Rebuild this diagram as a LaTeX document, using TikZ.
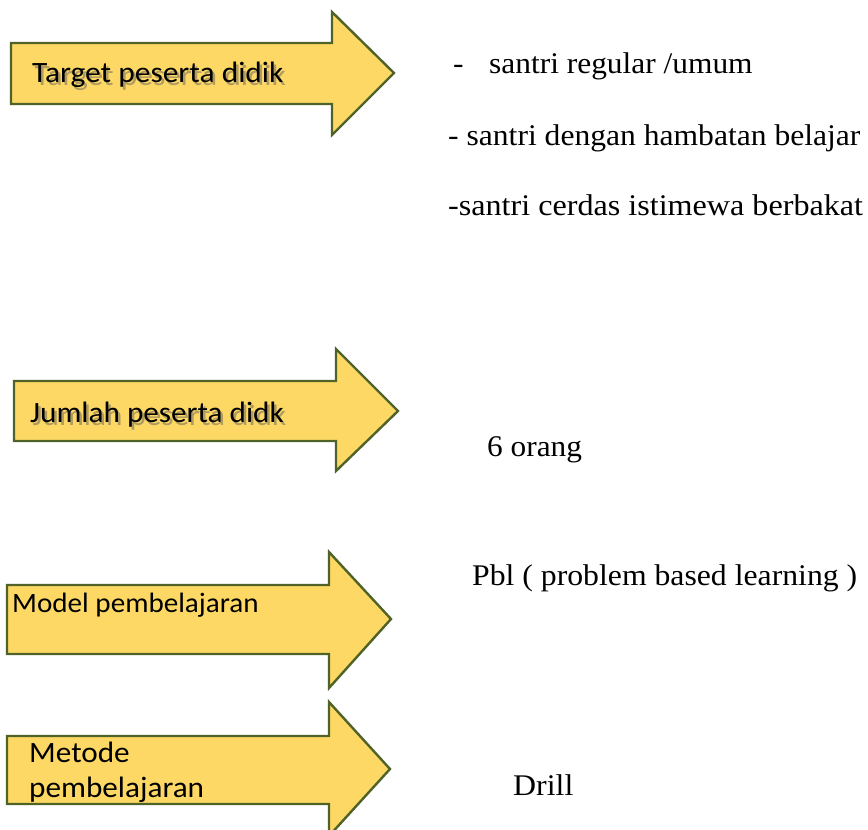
\documentclass[tikz,border=0pt]{standalone}
\usepackage{graphicx}
\usepackage{fontspec}
\setmainfont{Liberation Serif}
\newfontfamily\calib{Carlito}
\definecolor{arrfill}{RGB}{253,216,100}
\definecolor{arrline}{RGB}{79,98,40}
\definecolor{shadowgrey}{RGB}{175,155,95}
\newcommand\hs[2]{\scalebox{#1}[1]{#2}}
\newcommand\shtext[2]{\rlap{\kern2.5pt\raisebox{-3pt}{\textcolor{shadowgrey}{\hs{#1}{#2}}}}\hs{#1}{#2}}
\begin{document}
\begin{tikzpicture}[x=1pt,y=-1pt,
  bigarrow/.style={fill=arrfill,draw=arrline,line width=2.4pt,line join=miter},
  lbl/.style={anchor=base west,inner sep=0pt,font=\calib\fontsize{29.5}{34}\selectfont},
  rtxt/.style={anchor=base west,inner sep=0pt,font=\fontsize{30}{35}\selectfont}]
\useasboundingbox (0,0) rectangle (868,830);
\begin{scope}
\clip (0,0) rectangle (868,830);
% arrow 1
\draw[bigarrow] (11,43) -- (332,43) -- (332,12) -- (394,73) -- (332,135) -- (332,104) -- (11,104) -- cycle;
% arrow 2
\draw[bigarrow] (14,381) -- (336,381) -- (336,349) -- (398,411) -- (336,471) -- (336,441) -- (14,441) -- cycle;
% arrow 3
\draw[bigarrow] (7,585) -- (329,585) -- (329,552) -- (391,619) -- (329,688) -- (329,654) -- (7,654) -- cycle;
% arrow 4
\draw[bigarrow] (7,736) -- (329,736) -- (329,702) -- (390,769) -- (329,836) -- (329,804) -- (7,804) -- cycle;
\end{scope}
% left labels
\node[lbl] (t1) at (32,82) {\shtext{1.066}{Target peserta didik}};
\node[lbl] (t2) at (30,422) {\shtext{1.058}{Jumlah peserta didk}};
\node[lbl,font=\calib\fontsize{28}{33}\selectfont] (t3) at (12,612) {\hs{1.04}{Model pembelajaran}};
\node[lbl] (t4a) at (29,762) {\hs{1.058}{Metode}};
\node[lbl] (t4b) at (29,797) {\hs{1.058}{pembelajaran}};
% right texts
\node[rtxt] (r1a) at (453,73) {\hs{1.05}{-}};
\node[rtxt] (r1b) at (489,73) {\hs{1.047}{santri regular /umum}};
\node[rtxt] (r2) at (448,145) {\hs{1.053}{- santri dengan hambatan belajar}};
\node[rtxt] (r3) at (448,215) {\hs{1.071}{-santri cerdas istimewa berbakat}};
\node[rtxt] (r4) at (487,456) {\hs{1.044}{6 orang}};
\node[rtxt] (r5) at (472,585) {\hs{1.0575}{Pbl ( problem based learning )}};
\node[rtxt] (r6) at (513,795) {\hs{1.062}{Drill}};
\end{tikzpicture}
\end{document}
